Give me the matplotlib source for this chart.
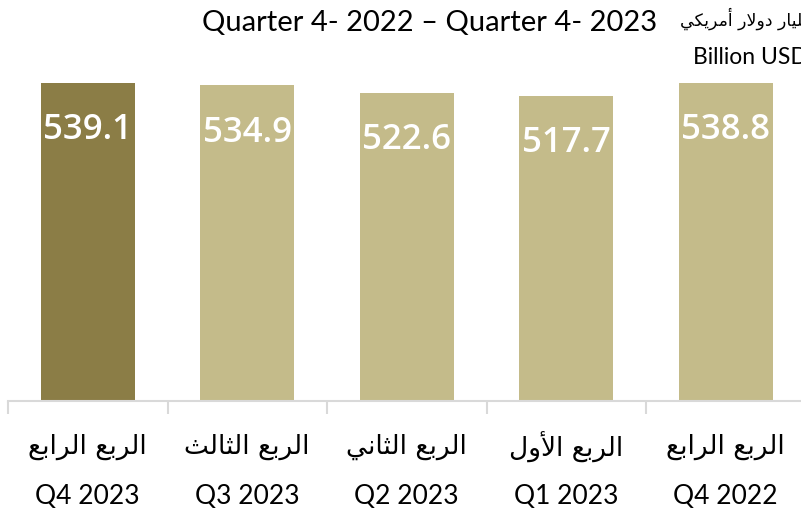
import matplotlib
matplotlib.use("Agg")
import matplotlib.pyplot as plt
import matplotlib.transforms as mtransforms

# data, left to right as in the picture
labels_en = ["Q4 2023", "Q3 2023", "Q2 2023", "Q1 2023", "Q4 2022"]
labels_ar = ["الربع الرابع", "الربع الثالث", "الربع الثاني", "الربع الأول", "الربع الرابع"]
values = [539.1, 534.9, 522.6, 517.7, 538.8]
colors = ["#8B7D46", "#C4BB8A", "#C4BB8A", "#C4BB8A", "#C4BB8A"]

title = "Quarter 4- 2022 – Quarter 4- 2023"
unit_ar = "مليار دولار أمريكي"
unit_en = "Billion USD"

# matplotlib has no Arabic shaping, so pick presentation forms by hand
# (isolated, final, initial, medial); two entries = joins on the right only
FORMS = {
    "ا": ("\uFE8D", "\uFE8E"),
    "أ": ("\uFE83", "\uFE84"),
    "ر": ("\uFEAD", "\uFEAE"),
    "د": ("\uFEA9", "\uFEAA"),
    "و": ("\uFEED", "\uFEEE"),
    "ل": ("\uFEDD", "\uFEDE", "\uFEDF", "\uFEE0"),
    "ب": ("\uFE8F", "\uFE90", "\uFE91", "\uFE92"),
    "ع": ("\uFEC9", "\uFECA", "\uFECB", "\uFECC"),
    "ث": ("\uFE99", "\uFE9A", "\uFE9B", "\uFE9C"),
    "ن": ("\uFEE5", "\uFEE6", "\uFEE7", "\uFEE8"),
    "ي": ("\uFEF1", "\uFEF2", "\uFEF3", "\uFEF4"),
    "م": ("\uFEE1", "\uFEE2", "\uFEE3", "\uFEE4"),
    "ك": ("\uFED9", "\uFEDA", "\uFEDB", "\uFEDC"),
    "لا": ("\uFEFB", "\uFEFC"),
    "لأ": ("\uFEF7", "\uFEF8"),
}


def shape(text):
    out = []
    for word in text.split(" "):
        units = []
        i = 0
        while i < len(word):
            if word[i] == "ل" and i + 1 < len(word) and word[i:i + 2] in FORMS:
                units.append(word[i:i + 2])
                i += 2
            else:
                units.append(word[i])
                i += 1
        glyphs = []
        for k, u in enumerate(units):
            f = FORMS[u]
            prev = k > 0 and len(FORMS[units[k - 1]]) == 4
            nxt = len(f) == 4 and k + 1 < len(units)
            if prev and nxt:
                g = f[3]
            elif prev:
                g = f[1]
            elif nxt:
                g = f[2]
            else:
                g = f[0]
            glyphs.append(g)
        out.append("".join(glyphs))
    return " ".join(out)[::-1]


EN = ["Lato", "DejaVu Sans"]
AR = ["DejaVu Sans"]

fig = plt.figure(figsize=(8.01, 5.20), dpi=100)
ax = fig.add_axes([8 / 801, 119 / 520, 797.5 / 801, 354 / 520])

x = list(range(len(values)))
bars = ax.bar(x, values, width=0.59, color=colors, zorder=2)
ax.set_xlim(-0.5, len(values) - 0.5)
ax.set_ylim(0, 600)

for b, v in zip(bars, values):
    ax.annotate(f"{v:.1f}", (b.get_x() + b.get_width() / 2, v),
                xytext=(0, -34), textcoords="offset points",
                ha="center", va="center", color="white",
                fontsize=25, fontweight="semibold", family=["Open Sans", "DejaVu Sans"])

for s in ["top", "left", "right"]:
    ax.spines[s].set_visible(False)
ax.spines["bottom"].set_color("#D9D9D9")
ax.spines["bottom"].set_linewidth(1.5)
ax.set_yticks([])
ax.set_xticks([i - 0.5 for i in range(len(values) + 1)])
ax.set_xticklabels([])
ax.tick_params(axis="x", length=9, width=1.5, color="#D9D9D9")

trans = mtransforms.blended_transform_factory(ax.transData, fig.transFigure)
for i in x:
    ax.text(i, 1 - 447 / 520, shape(labels_ar[i]), transform=trans, ha="center",
            va="center", fontsize=19, family=AR, color="black")
    ax.text(i, 1 - 497 / 520, labels_en[i], transform=trans, ha="center",
            va="center", fontsize=19, family=EN, color="black")

fig.text(430 / 801, 1 - 23 / 520, title, ha="center", va="center",
         fontsize=21, family=EN, color="black")
fig.text(812 / 801, 1 - 19 / 520, shape(unit_ar), ha="right", va="center",
         fontsize=12.5, family=AR, color="black")
fig.text(808 / 801, 1 - 57 / 520, unit_en, ha="right", va="center",
         fontsize=16.5, family=EN, color="black")

fig.savefig("out.png", dpi=100)
